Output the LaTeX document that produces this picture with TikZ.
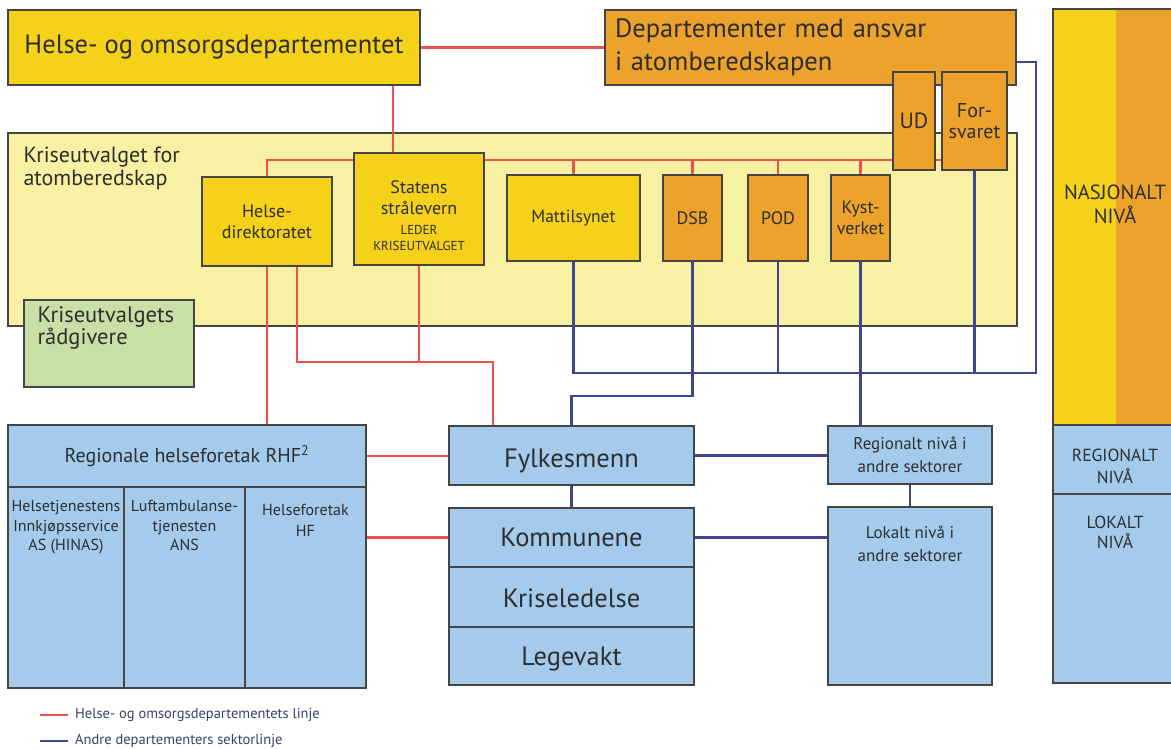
\documentclass[tikz,border=0pt]{standalone}
\usepackage{fontspec}
\setmainfont{PT Sans}

\definecolor{hodyellow}{HTML}{F5D11A}
\definecolor{deptorange}{HTML}{ECA22B}
\definecolor{kupale}{HTML}{F8F0A2}
\definecolor{radgreen}{HTML}{C8DFA5}
\definecolor{levelblue}{HTML}{A4CBEC}
\definecolor{hodred}{HTML}{E8524B}
\definecolor{sectorblue}{HTML}{3F4590}
\definecolor{edgegrey}{HTML}{454545}
\definecolor{txtgrey}{HTML}{2E2E2E}
\definecolor{legendtxt}{HTML}{3A3D6A}

\newcommand{\fs}[2]{\fontsize{#1}{#2}\selectfont}

\begin{document}
\begin{tikzpicture}[x=1pt,y=-1pt]
  \tikzstyle{Box}=[draw=edgegrey,line width=1.3pt,inner sep=0pt,align=center,text=txtgrey]
  \tikzstyle{TopText}=[anchor=north,align=center,inner sep=0pt,text=txtgrey]
  \tikzstyle{HodLine}=[draw=hodred,line width=2.6pt]
  \tikzstyle{SectorLine}=[draw=sectorblue,line width=2.6pt]
  \clip (0,0) rectangle (1171,749);

  % nasjonalt niva
  \node[Box,fill=kupale,minimum width=1009pt,minimum height=193pt,
        label={[anchor=north west,align=left,inner sep=0pt,text=txtgrey,font=\fs{22}{23},
                xshift=16pt,yshift=-14pt]north west:Kriseutvalget for\\atomberedskap}] (ku) at (512.5,229.5) {};
  \node[Box,fill=hodyellow,minimum width=412pt,minimum height=75pt,font=\fs{26.5}{30}] (hod) at (214,47.5) {Helse- og omsorgsdepartementet};
  \node[Box,fill=deptorange,minimum width=411pt,minimum height=75pt,text width=391pt,align=left,font=\fs{26.5}{33}] (dept) at (810.5,47.5) {Departementer med ansvar\\i atomberedskapen};
  \node[Box,fill=deptorange,minimum width=42pt,minimum height=98pt,font=\fs{22}{22}] (ud) at (914,121) {UD};
  \node[Box,fill=deptorange,minimum width=65pt,minimum height=98pt,font=\fs{20}{21}] (fors) at (974.5,121) {For-\\svaret};
  \node[Box,fill=hodyellow,minimum width=130pt,minimum height=89pt,font=\fs{18}{21}] (hdir) at (267,221.5) {Helse-\\direktoratet};
  \node[Box,fill=hodyellow,minimum width=130pt,minimum height=112pt,
        label={[TopText,text width=126pt,font=\fs{18}{21.5},yshift=-28pt]north:{Statens\\strålevern\endgraf\vspace{4pt}{\fs{13}{16}LEDER\\KRISEUTVALGET\endgraf}}}] (nrpa) at (419,209) {};
  \node[Box,fill=hodyellow,minimum width=133pt,minimum height=86pt,font=\fs{17.5}{21}] (matt) at (573.5,218) {Mattilsynet};
  \node[Box,fill=deptorange,minimum width=59pt,minimum height=86pt,font=\fs{18}{21}] (dsb) at (692.5,218) {DSB};
  \node[Box,fill=deptorange,minimum width=60pt,minimum height=86pt,font=\fs{18}{21}] (pod) at (778,218) {POD};
  \node[Box,fill=deptorange,minimum width=59pt,minimum height=86pt,font=\fs{18}{21}] (kyst) at (860.5,218) {Kyst-\\verket};
  \node[Box,fill=radgreen,minimum width=170pt,minimum height=87pt,
        label={[anchor=north west,align=left,inner sep=0pt,text=txtgrey,font=\fs{22.5}{22},
                xshift=14pt,yshift=-7pt]north west:Kriseutvalgets\\rådgivere}] (rad) at (109,343.5) {};

  % regionalt og lokalt niva
  \node[Box,fill=levelblue,minimum width=358pt,minimum height=62pt,font=\fs{20}{23}] (rhf) at (187,456) {Regionale helseforetak RHF\textsuperscript{2}};
  \node[Box,fill=levelblue,minimum width=116pt,minimum height=201pt,
        label={[TopText,font=\fs{16}{19.5},yshift=-14pt]north:Helsetjenestens\\Innkjøpsservice\\AS (HINAS)}] (hinas) at (66,587.5) {};
  \node[Box,fill=levelblue,minimum width=121pt,minimum height=201pt,
        label={[TopText,font=\fs{16}{19.5},yshift=-14pt]north:Luftambulanse-\\tjenesten\\ANS}] (ans) at (184.5,587.5) {};
  \node[Box,fill=levelblue,minimum width=121pt,minimum height=201pt,
        label={[TopText,font=\fs{16}{21},yshift=-18pt]north:Helseforetak\\HF}] (hf) at (305.5,587.5) {};
  \node[Box,fill=levelblue,minimum width=245pt,minimum height=59pt,font=\fs{26.5}{28},text height=28pt,text depth=5pt] (fylk) at (571.5,455.5) {Fylkesmenn};
  \node[Box,fill=levelblue,minimum width=245pt,minimum height=59pt,font=\fs{26.5}{28}] (komm) at (571.5,537.5) {Kommunene};
  \node[Box,fill=levelblue,minimum width=245pt,minimum height=60pt,font=\fs{26.5}{28},text height=26pt,text depth=5pt] (krled) at (571.5,597) {Kriseledelse};
  \node[Box,fill=levelblue,minimum width=245pt,minimum height=58pt,font=\fs{26.5}{28},text height=24pt,text depth=6pt] (legev) at (571.5,656) {Legevakt};
  \node[Box,fill=levelblue,minimum width=164pt,minimum height=58pt,font=\fs{17}{23}] (regan) at (910,455) {Regionalt nivå i\\andre sektorer};
  \node[Box,fill=levelblue,minimum width=164pt,minimum height=178pt,
        label={[TopText,font=\fs{17}{23},yshift=-19pt]north:Lokalt nivå i\\andre sektorer}] (lokan) at (910,596) {};

  % nivaa-kolonne
  \node[Box,fill=hodyellow,minimum width=124pt,minimum height=416pt,
        path picture={\fill[deptorange] ([xshift=1pt]path picture bounding box.north) rectangle (path picture bounding box.south east);},
        label={[TopText,font=\fs{20.5}{24},yshift=-176pt]north:NASJONALT\\NIVÅ}] (nasj) at (1115,217) {};
  \node[Box,fill=levelblue,minimum width=124pt,minimum height=69pt,
        label={[TopText,font=\fs{17.5}{22},yshift=-24pt]north:REGIONALT\\NIVÅ}] (regniv) at (1115,459.5) {};
  \node[Box,fill=levelblue,minimum width=124pt,minimum height=189pt,
        label={[TopText,font=\fs{17.5}{20},yshift=-22pt]north:LOKALT\\NIVÅ}] (lokniv) at (1115,588.5) {};

  \coordinate (redbus) at (0,160);
  \coordinate (redjoin) at (493,362);
  \coordinate (bluebus) at (1036,373);
  \coordinate (dsbturn) at (0,396);

  % HOD-linja
  \draw[HodLine] (hod.east) -- (dept.west);
  \draw[HodLine] (hod.south -| 393,0) -- (nrpa.north -| 393,0);
  \draw[HodLine] (hdir.north) |- (nrpa.west |- redbus);
  \draw[HodLine] (nrpa.east |- redbus) -- (ud.west |- redbus);
  \draw[HodLine] (ud.east |- redbus) -- (fors.west |- redbus);
  \foreach \b in {matt,dsb,pod,kyst}
    \draw[HodLine] (\b.north |- redbus) -- (\b.north);
  \draw[HodLine] (hdir.south) -- (rhf.north -| hdir.south);
  \draw[HodLine] (hdir.south -| 297,0) |- (redjoin) -- (fylk.north -| redjoin);
  \draw[HodLine] (nrpa.south) -- (nrpa.south |- redjoin);
  \draw[HodLine] (rhf.east) -- (fylk.west |- rhf.east);
  \draw[HodLine] (hf.east |- komm.west) -- (komm.west);

  % sektorlinja
  \draw[SectorLine] (dept.east |- 0,62) -| (bluebus) -| (matt.south);
  \foreach \b in {pod,fors}
    \draw[SectorLine] (\b.south) -- (\b.south |- bluebus);
  \draw[SectorLine] (dsb.south) -- (dsb.south |- dsbturn) -| (fylk.north);
  \draw[SectorLine] (kyst.south) -- (kyst.south |- regan.north);
  \draw[SectorLine] (fylk.east) -- (regan.west |- fylk.east);
  \draw[SectorLine] (fylk.south) -- (komm.north);
  \draw[SectorLine] (komm.east) -- (lokan.west |- komm.east);
  \draw[SectorLine] (regan.south) -- (lokan.north);
%  \draw[SectorLine] (ud.south) -- (ud.south |- bluebus);

  % forklaring
  \coordinate (leg1a) at (40,715);
  \coordinate (leg2a) at (40,741);
  \node[anchor=west,inner xsep=7pt,inner ysep=0pt,text=legendtxt,font=\fs{14.5}{15}] (leg1) at (68,715) {Helse- og omsorgsdepartementets linje};
  \node[anchor=west,inner xsep=7pt,inner ysep=0pt,text=legendtxt,font=\fs{14.5}{15}] (leg2) at (68,741) {Andre departementers sektorlinje};
  \draw[HodLine,line width=2.2pt] (leg1a) -- (leg1.west);
  \draw[SectorLine,line width=2.2pt] (leg2a) -- (leg2.west);
\end{tikzpicture}
\end{document}
